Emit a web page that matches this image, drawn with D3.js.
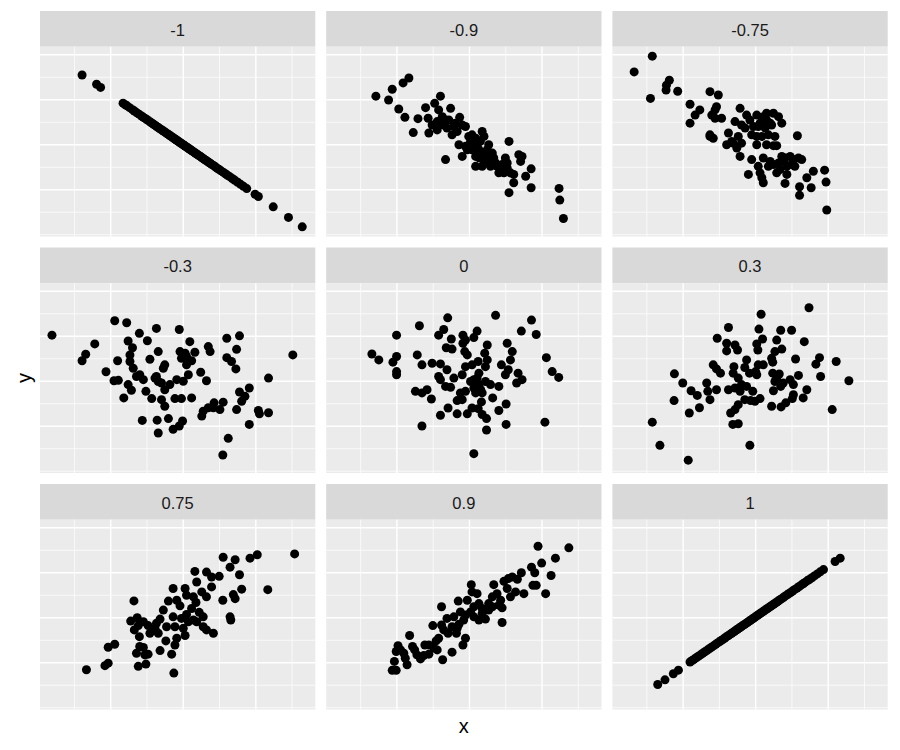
<!DOCTYPE html>
<html><head><meta charset="utf-8">
<script src="https://cdn.jsdelivr.net/npm/d3@7"></script>
<style>body{margin:0;background:#fff}svg{display:block}</style>
</head><body>
<script>
// facet labels (correlation)
const facets = ["-1","-0.9","-0.75","-0.3","0","0.3","0.75","0.9","1"];
const xMajor = [-2,0,2], xMinor = [-3,-1,1,3];
const yMajor = [-2,0,2,4], yMinor = [-4,-3,-1,1,3];

const pts_m1 = [[-2.79,3.10],[-2.39,2.69],[-2.28,2.55],[-1.66,1.85],[-1.60,1.78],[-1.55,1.73],[-1.48,1.65],[-1.40,1.56],[-1.35,1.50],[-1.28,1.42],[-1.22,1.36],[-1.15,1.28],[-1.10,1.22],[-1.05,1.17],[-1.00,1.11],[-0.95,1.06],[-0.90,1.00],[-0.86,0.96],[-0.82,0.91],[-0.78,0.87],[-0.74,0.82],[-0.70,0.78],[-0.66,0.73],[-0.62,0.69],[-0.58,0.65],[-0.55,0.61],[-0.51,0.57],[-0.48,0.53],[-0.44,0.49],[-0.41,0.46],[-0.38,0.42],[-0.34,0.38],[-0.31,0.35],[-0.28,0.31],[-0.25,0.28],[-0.22,0.24],[-0.19,0.21],[-0.16,0.18],[-0.13,0.14],[-0.10,0.11],[-0.07,0.08],[-0.04,0.04],[-0.01,0.01],[0.02,-0.02],[0.05,-0.06],[0.08,-0.09],[0.11,-0.12],[0.14,-0.16],[0.17,-0.19],[0.20,-0.22],[0.23,-0.26],[0.26,-0.29],[0.30,-0.33],[0.33,-0.37],[0.36,-0.40],[0.40,-0.45],[0.43,-0.48],[0.47,-0.52],[0.50,-0.56],[0.54,-0.60],[0.58,-0.65],[0.62,-0.69],[0.66,-0.73],[0.70,-0.78],[0.74,-0.82],[0.78,-0.87],[0.83,-0.92],[0.88,-0.98],[0.93,-1.04],[0.98,-1.09],[1.04,-1.16],[1.10,-1.22],[1.16,-1.29],[1.22,-1.36],[1.28,-1.42],[1.35,-1.50],[1.42,-1.58],[1.50,-1.67],[1.58,-1.76],[1.66,-1.85],[1.75,-1.95],[1.98,-2.20],[2.07,-2.30],[2.48,-2.76],[2.90,-3.23],[3.28,-3.65]];

const pts_m09 = [[-2.58,2.16],[-2.23,1.99],[-2.13,2.47],[-1.83,2.75],[-1.67,2.97],[-1.95,1.59],[-1.78,1.22],[-1.55,0.54],[-1.42,1.16],[-1.21,1.65],[-1.14,1.18],[-1.12,0.52],[-0.96,1.84],[-0.80,2.16],[-0.85,1.55],[-0.89,1.03],[-0.75,1.25],[-0.71,0.88],[-0.52,1.62],[-0.57,1.10],[-0.48,0.44],[-0.66,-0.66],[-0.27,1.22],[-0.20,0.88],[-0.11,0.81],[-0.29,0.00],[-0.20,-0.52],[0.07,0.44],[0.12,0.07],[0.35,0.59],[0.40,0.37],[0.26,-0.22],[0.35,-0.96],[0.44,-0.52],[0.53,0.00],[0.63,-0.37],[0.72,-0.81],[0.81,-1.25],[0.99,-0.59],[1.04,-1.03],[1.09,0.15],[1.09,-2.13],[1.22,-1.32],[1.22,-1.69],[1.36,-0.44],[1.45,-0.52],[1.41,-0.74],[1.55,-1.40],[1.70,-1.07],[1.70,-1.91],[2.47,-1.94],[2.49,-2.46],[2.59,-3.28],[-1.03,0.88],[-0.89,0.66],[-0.80,0.96],[-0.66,1.10],[-0.62,0.74],[-0.43,0.81],[-0.34,0.59],[-0.39,0.96],[-0.02,0.37],[0.03,0.15],[0.17,0.29],[0.21,-0.07],[0.30,0.15],[0.35,-0.37],[0.49,-0.22],[0.53,-0.74],[0.67,-0.59],[0.76,-0.96],[0.90,-0.88],[0.95,-1.25],[1.04,-0.81],[1.13,-1.25],[-0.11,-0.07],[-0.06,-0.22],[0.07,-0.22],[0.17,-0.52],[0.28,-0.59],[0.42,-0.81],[0.58,-0.96],[0.86,-1.10],[0.17,-0.96]];

const pts_m075 = [[-2.85,3.94],[-3.35,3.24],[-2.90,2.06],[-2.46,2.65],[-2.38,2.87],[-2.47,2.43],[-2.15,2.38],[-1.81,1.80],[-1.81,0.96],[-1.67,1.32],[-1.54,1.55],[-1.26,2.36],[-1.03,2.21],[-1.08,1.69],[-1.21,1.32],[-1.12,1.18],[-0.94,1.18],[-1.26,0.44],[-1.17,0.29],[-0.75,0.52],[-0.80,0.00],[-0.62,0.07],[-0.43,1.62],[-0.57,1.03],[-0.39,0.88],[-0.52,-0.15],[-0.43,-0.52],[-0.29,0.74],[-0.25,1.32],[-0.11,0.44],[0.03,1.32],[0.03,0.00],[-0.11,-0.66],[0.12,0.96],[0.21,1.25],[0.30,1.10],[0.40,0.96],[0.26,0.74],[0.35,0.44],[0.49,1.40],[0.63,1.25],[0.72,0.96],[0.44,0.88],[0.53,0.37],[0.30,0.00],[0.49,-0.04],[0.58,-0.04],[0.21,-0.59],[0.40,-0.74],[0.49,-0.88],[0.63,-0.81],[0.72,-0.52],[0.81,-0.59],[0.95,-0.52],[1.04,-0.66],[1.18,-0.59],[1.27,-0.66],[1.08,-0.96],[0.86,-0.96],[1.15,0.40],[-0.20,-1.32],[0.12,-1.25],[0.17,-1.47],[0.21,-1.69],[0.58,-1.25],[0.81,-1.72],[0.86,-1.32],[1.21,-1.87],[1.21,-2.25],[1.41,-1.47],[1.53,-1.91],[1.59,-1.18],[1.90,-1.13],[1.94,-1.66],[1.96,-2.90],[-1.26,0.37],[0.07,0.81],[-0.06,0.81],[-0.16,1.10],[0.17,0.37],[0.03,0.37],[0.30,1.40],[0.76,-0.74],[0.99,-0.88],[0.67,-1.10],[0.35,-0.96],[0.07,-0.96],[-0.66,0.15],[-0.48,0.37],[-0.39,0.07],[-1.12,1.55]];

const pts_m03 = [[-3.62,2.05],[-2.44,1.66],[-2.69,1.20],[-2.79,0.91],[-2.13,0.42],[-1.89,2.69],[-1.56,2.60],[-1.81,0.91],[-1.91,0.02],[-1.79,0.04],[-1.52,1.79],[-1.40,1.49],[-1.47,1.17],[-1.47,0.88],[-1.38,0.58],[-1.21,2.13],[-0.99,1.80],[-0.74,2.35],[-0.92,0.98],[-0.69,1.32],[-0.55,0.58],[-0.51,0.73],[-1.20,0.29],[-1.10,0.07],[-0.78,0.14],[-0.69,-0.01],[-1.52,-0.15],[-1.43,-0.40],[-1.64,-0.74],[-1.03,-0.45],[-0.87,-0.77],[-0.60,-0.08],[-0.51,-0.38],[-0.37,-0.15],[-0.60,-0.82],[-0.51,-1.11],[-0.23,-0.77],[-0.05,-0.77],[0.23,-0.74],[-0.18,0.07],[0.00,0.00],[0.14,0.29],[-0.09,1.32],[-0.05,1.02],[0.09,1.10],[0.18,1.76],[0.32,1.29],[0.23,0.91],[-0.11,2.30],[0.48,0.40],[0.64,0.02],[0.69,1.54],[0.74,1.32],[1.20,1.91],[1.55,2.02],[1.47,1.42],[1.20,1.05],[1.33,0.88],[1.45,0.55],[3.02,1.17],[2.35,0.14],[1.82,-0.30],[1.55,-0.48],[1.70,-0.67],[1.61,-0.89],[1.47,-1.26],[2.07,-1.30],[2.10,-1.45],[2.35,-1.40],[1.82,-1.92],[0.85,-0.96],[1.10,-0.93],[1.01,-1.26],[0.83,-1.18],[0.69,-1.18],[0.55,-1.33],[0.51,-1.55],[-1.13,-1.74],[-0.72,-1.73],[-0.41,-1.66],[-0.02,-1.77],[-0.11,-1.99],[-0.28,-2.14],[-0.69,-2.30],[1.24,-2.54],[1.09,-3.28],[-1.29,0.21],[-0.74,0.21],[0.05,1.25],[0.09,0.73]];

const pts_0 = [[-2.69,1.21],[-2.50,0.95],[-2.11,0.85],[-2.01,1.10],[-2.01,0.43],[-2.01,0.29],[-2.01,2.05],[-1.38,2.47],[-1.44,1.17],[-1.31,0.73],[-1.03,0.80],[-0.80,0.77],[-0.60,2.82],[-0.71,2.30],[-0.85,2.05],[-0.50,1.88],[-0.64,1.49],[-0.48,1.43],[-0.62,0.51],[-0.85,0.21],[-0.80,0.07],[-0.66,-0.23],[-0.52,-0.27],[-0.43,0.14],[-0.20,0.29],[-1.49,-0.45],[-1.31,-0.52],[-1.17,-0.38],[-1.05,-0.79],[-1.31,-1.99],[-0.80,-1.51],[-0.59,-1.19],[-0.34,-1.45],[-0.06,-1.45],[-0.25,-0.52],[-0.34,-0.86],[-0.20,-0.82],[-0.11,-0.45],[-0.18,2.05],[-0.11,1.83],[-0.18,1.69],[-0.13,1.32],[-0.06,1.17],[0.12,1.94],[0.21,2.23],[-0.11,0.65],[0.07,0.73],[0.24,0.88],[0.49,1.61],[0.42,1.25],[0.49,0.95],[0.44,0.65],[0.72,2.93],[1.04,1.69],[1.18,1.32],[1.13,0.95],[0.88,0.73],[1.07,0.51],[0.99,0.29],[1.34,0.36],[1.45,0.07],[1.30,-0.08],[1.43,2.23],[1.71,2.72],[1.84,2.08],[2.12,1.05],[2.28,0.43],[2.46,0.17],[2.08,-1.82],[1.01,-1.92],[1.01,-1.01],[0.81,-1.30],[0.64,-0.74],[0.81,-0.23],[0.58,-0.15],[0.47,-1.66],[0.47,-2.17],[0.12,-3.22],[0.07,-1.19],[0.24,-1.22],[0.33,-0.92],[0.35,-1.48],[0.12,0.07],[0.21,0.14],[0.26,-0.15],[0.12,-0.30],[0.31,-0.38],[0.17,-0.52],[0.35,-0.52],[0.03,-0.01],[0.26,0.36],[0.44,-0.01]];

const pts_03 = [[-2.85,-1.82],[-2.64,-2.85],[-1.86,-3.51],[-2.24,0.33],[-2.25,-0.86],[-2.01,-0.08],[-1.83,-1.41],[-1.78,-0.42],[-1.61,-0.63],[-1.55,-1.18],[-1.35,-0.08],[-1.32,-0.45],[-1.26,-0.82],[-1.08,-0.38],[-1.17,0.73],[-1.08,0.55],[-0.97,0.36],[-1.06,1.91],[-0.75,2.39],[-0.80,1.69],[-0.80,1.35],[-0.57,1.61],[-0.50,1.39],[-0.60,0.65],[-0.62,0.36],[-0.75,-0.38],[-0.57,-0.30],[-0.43,-0.45],[-0.25,-0.23],[-0.08,-0.45],[-0.30,-0.82],[-0.14,-0.86],[-0.02,-0.89],[0.12,-0.77],[-0.48,-1.04],[-0.57,-1.26],[-0.69,-1.41],[-0.63,-1.92],[-0.48,-1.89],[-0.16,-2.85],[-0.25,0.95],[-0.30,0.61],[-0.17,0.36],[0.03,0.29],[0.07,0.73],[0.21,0.73],[0.03,1.66],[0.06,1.39],[0.19,1.88],[0.09,2.32],[0.15,2.98],[0.44,1.02],[0.47,0.85],[0.53,1.32],[0.72,1.43],[0.58,1.83],[0.69,2.27],[0.99,2.27],[1.34,1.76],[1.47,3.27],[1.10,0.99],[0.47,0.36],[0.65,0.32],[0.53,-0.01],[0.69,-0.23],[0.49,-0.42],[0.95,0.07],[1.04,-0.15],[1.18,0.26],[1.04,-0.60],[1.01,-0.77],[1.31,-0.74],[1.41,-0.38],[0.44,-1.11],[0.70,-1.14],[0.83,-0.96],[1.66,0.76],[1.76,1.05],[1.79,0.21],[2.22,0.88],[2.57,0.02],[2.11,-1.26],[-0.48,0.14],[-0.39,-0.15],[0.58,0.14],[0.76,-0.08],[0.00,0.43]];

const pts_075 = [[-2.67,-2.31],[-2.16,-2.13],[-2.07,-2.02],[-2.07,-1.31],[-1.89,-1.18],[-1.36,0.75],[-1.24,-2.16],[-1.03,-2.06],[-1.29,-1.58],[-1.20,-1.28],[-1.10,-1.32],[-0.97,-1.62],[-0.64,-1.46],[-0.32,-1.62],[-0.26,-2.46],[-0.48,-1.03],[-0.23,-1.21],[-0.18,-0.91],[0.05,-0.79],[-1.21,-0.84],[-1.35,-0.54],[-1.45,-0.15],[-1.27,0.00],[-1.10,-0.18],[-0.97,-0.35],[-0.92,-0.69],[-0.69,-0.69],[-0.74,-0.25],[-0.64,-0.06],[-0.55,0.34],[-0.41,0.74],[-0.28,1.30],[-0.18,0.78],[-0.09,0.53],[-0.28,0.04],[-0.23,-0.40],[-0.05,-0.03],[0.05,1.30],[0.09,1.00],[0.28,0.93],[0.32,2.06],[0.37,1.59],[0.51,1.15],[0.64,0.93],[0.23,0.41],[0.35,0.68],[0.44,0.24],[0.55,0.04],[0.14,-0.18],[0.28,-0.10],[0.55,-0.40],[0.64,-0.54],[0.83,-0.69],[0.64,2.03],[0.78,1.81],[0.78,1.37],[0.99,1.84],[1.10,2.69],[1.29,2.25],[1.43,2.58],[1.55,1.91],[1.09,0.78],[1.38,1.03],[1.43,0.85],[1.61,1.27],[1.29,0.04],[1.31,-0.10],[1.84,2.65],[2.04,2.80],[2.33,1.25],[3.07,2.84],[-0.46,-0.40],[0.00,-0.47],[0.09,0.15],[0.37,-0.18],[-0.78,-0.47],[-1.24,-0.35],[-1.06,-1.65]];

const pts_09 = [[-2.13,-2.34],[-2.02,-2.34],[-2.07,-1.94],[-2.02,-1.50],[-1.97,-1.24],[-1.81,-1.58],[-1.72,-2.09],[-1.77,-1.80],[-1.65,-0.79],[-1.57,-1.28],[-1.51,-1.43],[-1.35,-1.83],[-1.26,-1.68],[-1.23,-1.21],[-1.12,-1.62],[-0.98,-1.35],[-0.89,-1.43],[-0.92,-1.03],[-0.74,-1.87],[-0.85,-0.91],[-1.01,-0.35],[-0.77,-0.32],[-0.77,0.49],[-0.62,-0.03],[-0.71,-0.54],[-0.59,-0.69],[-0.48,-0.40],[-0.48,-1.53],[-0.36,-0.69],[-0.31,0.74],[-0.25,0.26],[-0.29,-0.29],[-0.18,-1.21],[-0.11,-0.91],[-0.16,-0.10],[-0.06,0.78],[0.05,1.47],[0.07,1.15],[0.21,1.07],[0.03,0.26],[0.12,0.04],[0.26,0.63],[0.26,-0.10],[0.44,-0.06],[0.35,0.41],[0.53,0.63],[0.63,0.49],[0.67,1.47],[0.76,1.07],[0.86,0.78],[0.81,0.56],[0.90,0.44],[0.90,-0.21],[0.95,1.62],[1.07,1.74],[1.18,1.81],[1.04,1.30],[1.13,0.93],[1.27,1.15],[1.32,1.71],[1.43,2.00],[1.50,1.07],[1.71,2.25],[1.80,2.00],[1.99,2.43],[1.75,1.44],[1.84,1.44],[2.10,1.07],[2.25,1.88],[2.37,2.65],[1.89,3.18],[2.74,3.11],[-0.43,0.04],[-0.34,-0.47],[0.35,0.19],[0.53,0.34],[0.63,0.93],[-0.11,0.12],[0.12,0.49],[-1.12,-1.21],[-1.45,-1.65],[-1.90,-1.43]];

const pts_1 = [[-2.70,-2.97],[-2.50,-2.76],[-2.27,-2.49],[-2.13,-2.33],[-1.81,-1.97],[-1.75,-1.90],[-1.70,-1.85],[-1.64,-1.78],[-1.58,-1.71],[-1.52,-1.65],[-1.46,-1.58],[-1.40,-1.51],[-1.34,-1.45],[-1.28,-1.38],[-1.22,-1.31],[-1.16,-1.25],[-1.10,-1.18],[-1.05,-1.12],[-1.00,-1.07],[-0.95,-1.01],[-0.90,-0.96],[-0.85,-0.90],[-0.80,-0.84],[-0.75,-0.79],[-0.70,-0.73],[-0.66,-0.69],[-0.62,-0.64],[-0.58,-0.60],[-0.54,-0.55],[-0.50,-0.51],[-0.46,-0.46],[-0.42,-0.42],[-0.38,-0.37],[-0.34,-0.33],[-0.30,-0.29],[-0.26,-0.24],[-0.22,-0.20],[-0.18,-0.15],[-0.14,-0.11],[-0.10,-0.06],[-0.06,-0.02],[-0.02,0.03],[0.02,0.07],[0.06,0.12],[0.10,0.16],[0.14,0.21],[0.18,0.25],[0.22,0.30],[0.26,0.34],[0.30,0.39],[0.34,0.43],[0.38,0.47],[0.42,0.52],[0.46,0.56],[0.50,0.61],[0.54,0.65],[0.58,0.70],[0.62,0.74],[0.67,0.80],[0.72,0.85],[0.77,0.91],[0.82,0.97],[0.87,1.02],[0.92,1.08],[0.97,1.13],[1.02,1.19],[1.08,1.26],[1.14,1.32],[1.20,1.39],[1.26,1.46],[1.31,1.51],[1.36,1.57],[1.42,1.64],[1.48,1.70],[1.55,1.78],[1.62,1.86],[1.70,1.95],[1.78,2.04],[1.87,2.14],[2.19,2.50],[2.33,2.65]];

const panelData = [pts_m1, pts_m09, pts_m075, pts_m03, pts_0, pts_03, pts_075, pts_09, pts_1];

const W = 900, H = 750;
const left = 40, colStep = 286.2, pw = 275.3;
const top0 = 11, rowStep = 236.5, stripH = 35.7, ph = 189.8;

const svg = d3.select("body").append("svg").attr("width", W).attr("height", H)
  .style("font-family", "'Liberation Sans', Arial, Helvetica, sans-serif");

const x = d3.scaleLinear().domain([-3.95, 3.64]).range([0, pw]);
const y = d3.scaleLinear().domain([-4.08, 4.36]).range([ph, 0]);

facets.forEach((lab, i) => {
  const c = i % 3, r = Math.floor(i / 3);
  const gx = left + c * colStep, gy = top0 + r * rowStep;
  const g = svg.append("g").attr("transform", `translate(${gx},${gy})`);
  // strip
  g.append("rect").attr("width", pw).attr("height", stripH).attr("fill", "#D9D9D9");
  g.append("text").attr("x", pw / 2).attr("y", stripH / 2 + 1).attr("dy", "0.35em")
    .attr("text-anchor", "middle").attr("font-size", 16.5).attr("fill", "#1A1A1A").text(lab);
  const p = g.append("g").attr("transform", `translate(0,${stripH})`);
  p.append("rect").attr("width", pw).attr("height", ph).attr("fill", "#EBEBEB");
  // minor grid
  p.selectAll(".vmin").data(xMinor).join("line")
    .attr("x1", d => x(d)).attr("x2", d => x(d)).attr("y1", 0).attr("y2", ph)
    .attr("stroke", "#fff").attr("stroke-width", 0.7);
  p.selectAll(".hmin").data(yMinor).join("line")
    .attr("y1", d => y(d)).attr("y2", d => y(d)).attr("x1", 0).attr("x2", pw)
    .attr("stroke", "#fff").attr("stroke-width", 0.7);
  // major grid
  p.selectAll(".vmaj").data(xMajor).join("line")
    .attr("x1", d => x(d)).attr("x2", d => x(d)).attr("y1", 0).attr("y2", ph)
    .attr("stroke", "#fff").attr("stroke-width", 1.4);
  p.selectAll(".hmaj").data(yMajor).join("line")
    .attr("y1", d => y(d)).attr("y2", d => y(d)).attr("x1", 0).attr("x2", pw)
    .attr("stroke", "#fff").attr("stroke-width", 1.4);
  // points
  p.selectAll("circle").data(panelData[i]).join("circle")
    .attr("cx", d => x(d[0])).attr("cy", d => y(d[1])).attr("r", 4.5).attr("fill", "#000");
});

// axis titles
svg.append("text").attr("x", left + (2 * colStep + pw) / 2).attr("y", 726).attr("dy", "0.35em")
  .attr("text-anchor", "middle").attr("font-size", 20).attr("fill", "#000").text("x");
const yc = (top0 + stripH + top0 + 2 * rowStep + stripH + ph) / 2;
svg.append("text").attr("transform", `translate(24,${yc}) rotate(-90)`).attr("dy", "0.35em")
  .attr("text-anchor", "middle").attr("font-size", 20).attr("fill", "#000").text("y");
</script>
</body></html>
